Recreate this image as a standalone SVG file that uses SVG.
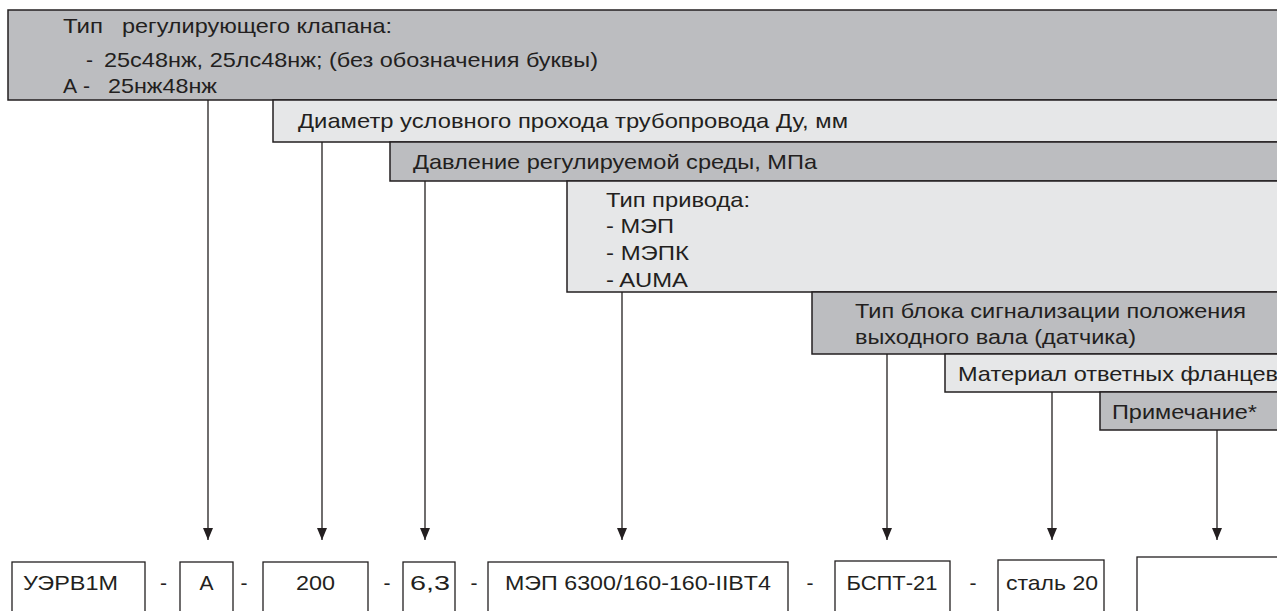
<svg xmlns="http://www.w3.org/2000/svg" width="1277" height="611" viewBox="0 0 1277 611">
<defs>
<style>
.dk{fill:#bcbdc0;stroke:#231f20;stroke-width:1.5}
.lt{fill:#e6e7e8;stroke:#231f20;stroke-width:1.5}
.bx{fill:#ffffff;stroke:#231f20;stroke-width:1.3}
.t{font-family:"Liberation Sans",Arial,sans-serif;font-size:21px;fill:#231f20}
.c{text-anchor:middle}
.ln{stroke:#231f20;stroke-width:1.3;fill:none}
</style>
<marker id="ah" viewBox="0 0 12 10" refX="12" refY="5" markerWidth="12" markerHeight="10" markerUnits="userSpaceOnUse" orient="auto">
<path d="M0,0 L12,5 L0,10 Z" fill="#231f20"/>
</marker>
</defs>
<rect width="1277" height="611" fill="#ffffff"/>

<g id="n-valve-type">
<rect class="dk" x="8" y="10" width="1290" height="90"/>
<text class="t" x="63" y="33" textLength="40" lengthAdjust="spacingAndGlyphs">Тип</text>
<text class="t" x="122" y="33" textLength="270" lengthAdjust="spacingAndGlyphs">регулирующего клапана:</text>
<text class="t" x="86" y="67">-</text>
<text class="t" x="104" y="67" textLength="494" lengthAdjust="spacingAndGlyphs">25с48нж, 25лс48нж; (без обозначения буквы)</text>
<text class="t" x="63" y="93" textLength="27" lengthAdjust="spacingAndGlyphs">А -</text>
<text class="t" x="108" y="93" textLength="109" lengthAdjust="spacingAndGlyphs">25нж48нж</text>
</g>

<g id="n-diameter">
<rect class="lt" x="273" y="100" width="1020" height="42"/>
<text class="t" x="298" y="128" textLength="550" lengthAdjust="spacingAndGlyphs">Диаметр условного прохода трубопровода Ду, мм</text>
</g>

<g id="n-pressure">
<rect class="dk" x="390" y="142" width="900" height="39"/>
<text class="t" x="413" y="169" textLength="404" lengthAdjust="spacingAndGlyphs">Давление регулируемой среды, МПа</text>
</g>

<g id="n-drive">
<rect class="lt" x="567" y="181" width="720" height="111"/>
<text class="t" x="606" y="207" textLength="144" lengthAdjust="spacingAndGlyphs">Тип привода:</text>
<text class="t" x="606" y="233" textLength="68" lengthAdjust="spacingAndGlyphs">- МЭП</text>
<text class="t" x="606" y="260" textLength="83" lengthAdjust="spacingAndGlyphs">- МЭПК</text>
<text class="t" x="606" y="287" textLength="82" lengthAdjust="spacingAndGlyphs">- AUMA</text>
</g>

<g id="n-signal">
<rect class="dk" x="812" y="292" width="480" height="62"/>
<text class="t" x="855" y="318" textLength="391" lengthAdjust="spacingAndGlyphs">Тип блока сигнализации положения</text>
<text class="t" x="855" y="344" textLength="281" lengthAdjust="spacingAndGlyphs">выходного вала (датчика)</text>
</g>

<g id="n-flange">
<rect class="lt" x="945" y="354" width="340" height="38"/>
<text class="t" x="958" y="381" textLength="320" lengthAdjust="spacingAndGlyphs">Материал ответных фланцев</text>
</g>

<g id="n-note">
<rect class="dk" x="1100" y="392" width="190" height="38"/>
<text class="t" x="1112" y="419" textLength="145" lengthAdjust="spacingAndGlyphs">Примечание*</text>
</g>

<g id="connectors">
<line class="ln" x1="208" y1="100" x2="208" y2="540" marker-end="url(#ah)"/>
<line class="ln" x1="322" y1="142" x2="322" y2="540" marker-end="url(#ah)"/>
<line class="ln" x1="425" y1="181" x2="425" y2="540" marker-end="url(#ah)"/>
<line class="ln" x1="622" y1="292" x2="622" y2="540" marker-end="url(#ah)"/>
<line class="ln" x1="887" y1="354" x2="887" y2="540" marker-end="url(#ah)"/>
<line class="ln" x1="1052" y1="392" x2="1052" y2="540" marker-end="url(#ah)"/>
<line class="ln" x1="1217" y1="430" x2="1217" y2="540" marker-end="url(#ah)"/>
</g>

<g id="n-code-uerv">
<rect class="bx" x="12" y="562" width="133" height="60"/>
<text class="t" x="23" y="590" textLength="95" lengthAdjust="spacingAndGlyphs">УЭРВ1М</text>
</g>
<g id="n-code-a">
<rect class="bx" x="180" y="562" width="53" height="60"/>
<text class="t c" x="206.5" y="590">А</text>
</g>
<g id="n-code-200">
<rect class="bx" x="263" y="562" width="105" height="60"/>
<text class="t c" x="315.5" y="590" textLength="39" lengthAdjust="spacingAndGlyphs">200</text>
</g>
<g id="n-code-63">
<rect class="bx" x="403" y="562" width="52" height="60"/>
<text class="t c" x="430" y="590" textLength="40" lengthAdjust="spacingAndGlyphs">6,3</text>
</g>
<g id="n-code-mep">
<rect class="bx" x="488" y="562" width="300" height="60"/>
<text class="t c" x="638" y="590" textLength="266" lengthAdjust="spacingAndGlyphs">МЭП 6300/160-160-IIBT4</text>
</g>
<g id="n-code-bspt">
<rect class="bx" x="835" y="561" width="115" height="60"/>
<text class="t c" x="892" y="590" textLength="91" lengthAdjust="spacingAndGlyphs">БСПТ-21</text>
</g>
<g id="n-code-steel">
<rect class="bx" x="998" y="560" width="106" height="60"/>
<text class="t c" x="1052" y="590" textLength="92" lengthAdjust="spacingAndGlyphs">сталь 20</text>
</g>
<g id="n-code-note">
<rect class="bx" x="1137" y="557" width="160" height="60"/>
</g>

<g id="separators">
<text class="t c" x="163.5" y="590">-</text>
<text class="t c" x="244" y="590">-</text>
<text class="t c" x="387" y="590">-</text>
<text class="t c" x="474" y="590">-</text>
<text class="t c" x="810" y="590">-</text>
<text class="t c" x="973" y="590">-</text>
</g>
</svg>
